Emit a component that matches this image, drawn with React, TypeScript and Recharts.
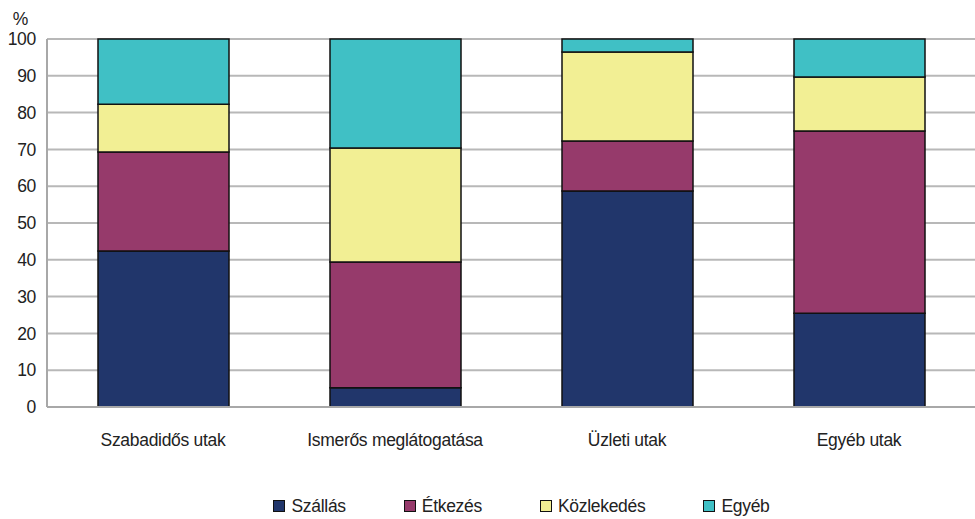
import { BarChart, Bar, XAxis, YAxis, CartesianGrid, Legend } from "recharts";

const categories = ["Szabadidős utak", "Ismerős meglátogatása", "Üzleti utak", "Egyéb utak"];
const szallas = [42.4, 5.2, 58.7, 25.5];
const etkezes = [26.9, 34.2, 13.6, 49.5];
const kozlekedes = [13.0, 31.0, 24.2, 14.7];
const egyeb = [17.7, 29.6, 3.5, 10.3];
const yTicks = [0, 10, 20, 30, 40, 50, 60, 70, 80, 90, 100];

const series = [
  { key: "szallas", name: "Szállás", color: "#21366b" },
  { key: "etkezes", name: "Étkezés", color: "#963a6b" },
  { key: "kozlekedes", name: "Közlekedés", color: "#f2ef94" },
  { key: "egyeb", name: "Egyéb", color: "#40c0c5" },
];

const data = categories.map((name, i) => ({
  name,
  szallas: szallas[i],
  etkezes: etkezes[i],
  kozlekedes: kozlekedes[i],
  egyeb: egyeb[i],
}));

const font = "'Liberation Sans', Arial, sans-serif";
const textStyle = { fill: "#222", fontSize: 17.5, fontFamily: font, letterSpacing: -0.3 };

function LegendContent() {
  return (
    <div
      style={{
        display: "flex",
        justifyContent: "center",
        height: 26,
        alignItems: "center",
        paddingLeft: 68,
        fontFamily: font,
        fontSize: 17.5,
        letterSpacing: -0.3,
        color: "#222",
      }}
    >
      {series.map((s) => (
        <div key={s.key} style={{ display: "flex", alignItems: "center", margin: "0 29px" }}>
          <span style={{ width: 10, height: 10, background: s.color, border: "1.5px solid #111", marginRight: 6 }} />
          <span>{s.name}</span>
        </div>
      ))}
    </div>
  );
}

export default function App() {
  return (
    <div style={{ position: "absolute", left: 0, top: 0, background: "#fff" }}>
      <BarChart width={975} height={519} data={data} margin={{ top: 39, right: 0, bottom: 0, left: 0 }}>
        <CartesianGrid vertical={false} stroke="#b8b8b8" strokeWidth={2} />
        <XAxis
          dataKey="name"
          height={86}
          tickLine={false}
          tickSize={0}
          tickMargin={27}
          axisLine={{ stroke: "#a8a8a8", strokeWidth: 2 }}
          tick={textStyle}
        />
        <YAxis
          width={47}
          domain={[0, 100]}
          ticks={yTicks}
          interval={0}
          tickLine={false}
          tickSize={0}
          tickMargin={11}
          axisLine={{ stroke: "#a8a8a8", strokeWidth: 2 }}
          tick={textStyle}
          label={{ value: "%", position: "top", offset: 14, dx: -3, ...textStyle }}
        />
        <Legend verticalAlign="bottom" content={<LegendContent />} />
        {series.map((s) => (
          <Bar
            key={s.key}
            dataKey={s.key}
            name={s.name}
            stackId="a"
            fill={s.color}
            stroke="#111"
            strokeWidth={1.5}
            barSize={131}
            isAnimationActive={false}
          />
        ))}
      </BarChart>
    </div>
  );
}
